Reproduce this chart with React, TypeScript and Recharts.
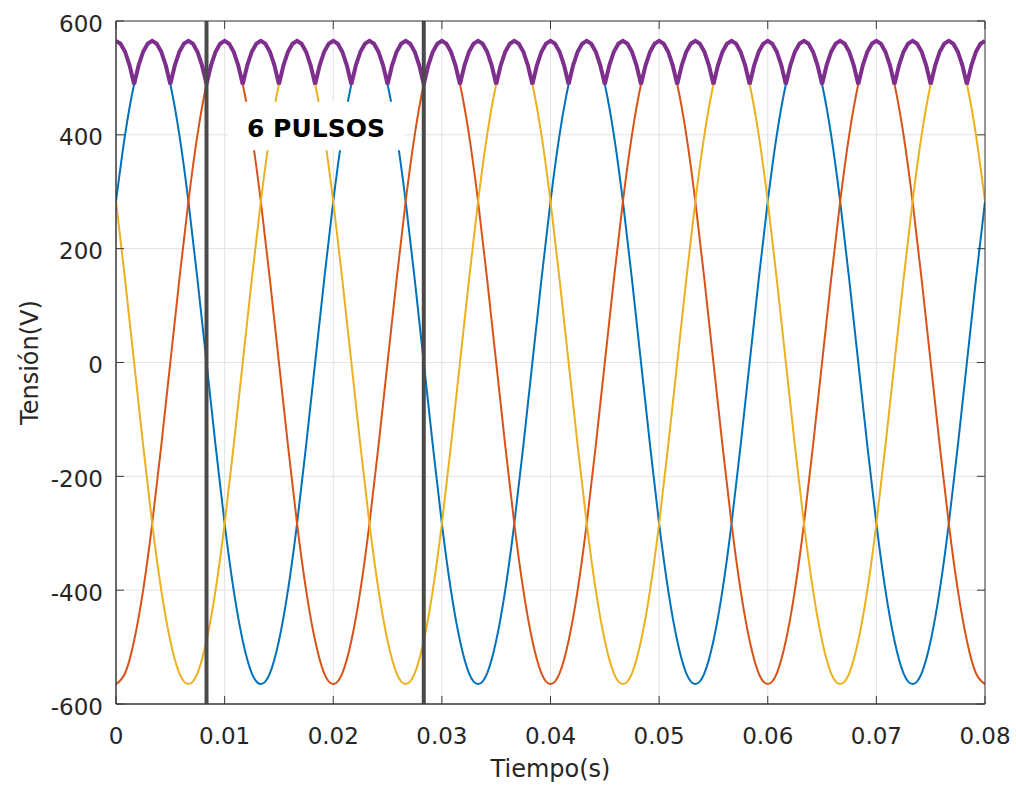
import React from 'react';
import {
  LineChart,
  Line,
  XAxis,
  YAxis,
  CartesianGrid,
  ReferenceLine,
  ReferenceArea,
  Label,
} from 'recharts';

// ---------- data ----------
const xTicks = [0, 0.01, 0.02, 0.03, 0.04, 0.05, 0.06, 0.07, 0.08];
const xTickLabels = ['0', '0.01', '0.02', '0.03', '0.04', '0.05', '0.06', '0.07', '0.08'];
const yTicks = [-600, -400, -200, 0, 200, 400, 600];
const yTickLabels = ['-600', '-400', '-200', '0', '200', '400', '600'];

const phaseTimes = [
  0, 0.000833, 0.001667, 0.0025, 0.003333, 0.004167, 0.005, 0.005833, 0.006667, 0.0075, 0.008333, 0.009167, 0.01, 0.010833, 0.011667, 0.0125, 0.013333, 0.014167, 0.015, 0.015833, 0.016667, 0.0175, 0.018333, 0.019167,
  0.02, 0.020833, 0.021667, 0.0225, 0.023333, 0.024167, 0.025, 0.025833, 0.026667, 0.0275, 0.028333, 0.029167, 0.03, 0.030833, 0.031667, 0.0325, 0.033333, 0.034167, 0.035, 0.035833, 0.036667, 0.0375, 0.038333, 0.039167,
  0.04, 0.040833, 0.041667, 0.0425, 0.043333, 0.044167, 0.045, 0.045833, 0.046667, 0.0475, 0.048333, 0.049167, 0.05, 0.050833, 0.051667, 0.0525, 0.053333, 0.054167, 0.055, 0.055833, 0.056667, 0.0575, 0.058333, 0.059167,
  0.06, 0.060833, 0.061667, 0.0625, 0.063333, 0.064167, 0.065, 0.065833, 0.066667, 0.0675, 0.068333, 0.069167, 0.07, 0.070833, 0.071667, 0.0725, 0.073333, 0.074167, 0.075, 0.075833, 0.076667, 0.0775, 0.078333, 0.079167,
  0.08,
];

const phaseBlue = [
  283, 400, 489, 546, 565, 546, 489, 400, 283, 146, 0, -146, -283, -400, -489, -546, -565, -546, -489, -400, -283, -146, 0, 146,
  283, 400, 489, 546, 565, 546, 489, 400, 283, 146, 0, -146, -283, -400, -489, -546, -565, -546, -489, -400, -283, -146, 0, 146,
  283, 400, 489, 546, 565, 546, 489, 400, 283, 146, 0, -146, -283, -400, -489, -546, -565, -546, -489, -400, -283, -146, 0, 146,
  283, 400, 489, 546, 565, 546, 489, 400, 283, 146, 0, -146, -283, -400, -489, -546, -565, -546, -489, -400, -283, -146, 0, 146,
  283,
];

const phaseOrange = [
  -565, -546, -489, -400, -283, -146, 0, 146, 283, 400, 489, 546, 565, 546, 489, 400, 283, 146, 0, -146, -283, -400, -489, -546,
  -565, -546, -489, -400, -283, -146, 0, 146, 283, 400, 489, 546, 565, 546, 489, 400, 283, 146, 0, -146, -283, -400, -489, -546,
  -565, -546, -489, -400, -283, -146, 0, 146, 283, 400, 489, 546, 565, 546, 489, 400, 283, 146, 0, -146, -283, -400, -489, -546,
  -565, -546, -489, -400, -283, -146, 0, 146, 283, 400, 489, 546, 565, 546, 489, 400, 283, 146, 0, -146, -283, -400, -489, -546,
  -565,
];

const phaseYellow = [
  283, 146, 0, -146, -283, -400, -489, -546, -565, -546, -489, -400, -283, -146, 0, 146, 283, 400, 489, 546, 565, 546, 489, 400,
  283, 146, 0, -146, -283, -400, -489, -546, -565, -546, -489, -400, -283, -146, 0, 146, 283, 400, 489, 546, 565, 546, 489, 400,
  283, 146, 0, -146, -283, -400, -489, -546, -565, -546, -489, -400, -283, -146, 0, 146, 283, 400, 489, 546, 565, 546, 489, 400,
  283, 146, 0, -146, -283, -400, -489, -546, -565, -546, -489, -400, -283, -146, 0, 146, 283, 400, 489, 546, 565, 546, 489, 400,
  283,
];

const envTimes = [
  0, 0.000417, 0.000833, 0.00125, 0.001667, 0.002083, 0.0025, 0.002917, 0.003333, 0.00375, 0.004167, 0.004583, 0.005, 0.005417, 0.005833, 0.00625, 0.006667, 0.007083, 0.0075, 0.007917, 0.008333, 0.00875, 0.009167, 0.009583,
  0.01, 0.010417, 0.010833, 0.01125, 0.011667, 0.012083, 0.0125, 0.012917, 0.013333, 0.01375, 0.014167, 0.014583, 0.015, 0.015417, 0.015833, 0.01625, 0.016667, 0.017083, 0.0175, 0.017917, 0.018333, 0.01875, 0.019167, 0.019583,
  0.02, 0.020417, 0.020833, 0.02125, 0.021667, 0.022083, 0.0225, 0.022917, 0.023333, 0.02375, 0.024167, 0.024583, 0.025, 0.025417, 0.025833, 0.02625, 0.026667, 0.027083, 0.0275, 0.027917, 0.028333, 0.02875, 0.029167, 0.029583,
  0.03, 0.030417, 0.030833, 0.03125, 0.031667, 0.032083, 0.0325, 0.032917, 0.033333, 0.03375, 0.034167, 0.034583, 0.035, 0.035417, 0.035833, 0.03625, 0.036667, 0.037083, 0.0375, 0.037917, 0.038333, 0.03875, 0.039167, 0.039583,
  0.04, 0.040417, 0.040833, 0.04125, 0.041667, 0.042083, 0.0425, 0.042917, 0.043333, 0.04375, 0.044167, 0.044583, 0.045, 0.045417, 0.045833, 0.04625, 0.046667, 0.047083, 0.0475, 0.047917, 0.048333, 0.04875, 0.049167, 0.049583,
  0.05, 0.050417, 0.050833, 0.05125, 0.051667, 0.052083, 0.0525, 0.052917, 0.053333, 0.05375, 0.054167, 0.054583, 0.055, 0.055417, 0.055833, 0.05625, 0.056667, 0.057083, 0.0575, 0.057917, 0.058333, 0.05875, 0.059167, 0.059583,
  0.06, 0.060417, 0.060833, 0.06125, 0.061667, 0.062083, 0.0625, 0.062917, 0.063333, 0.06375, 0.064167, 0.064583, 0.065, 0.065417, 0.065833, 0.06625, 0.066667, 0.067083, 0.0675, 0.067917, 0.068333, 0.06875, 0.069167, 0.069583,
  0.07, 0.070417, 0.070833, 0.07125, 0.071667, 0.072083, 0.0725, 0.072917, 0.073333, 0.07375, 0.074167, 0.074583, 0.075, 0.075417, 0.075833, 0.07625, 0.076667, 0.077083, 0.0775, 0.077917, 0.078333, 0.07875, 0.079167, 0.079583,
  0.08,
];

const envelope = [
  565, 560, 546, 522, 489, 522, 546, 560, 565, 560, 546, 522, 489, 522, 546, 560, 565, 560, 546, 522, 489, 522, 546, 560,
  565, 560, 546, 522, 489, 522, 546, 560, 565, 560, 546, 522, 489, 522, 546, 560, 565, 560, 546, 522, 489, 522, 546, 560,
  565, 560, 546, 522, 489, 522, 546, 560, 565, 560, 546, 522, 489, 522, 546, 560, 565, 560, 546, 522, 489, 522, 546, 560,
  565, 560, 546, 522, 489, 522, 546, 560, 565, 560, 546, 522, 489, 522, 546, 560, 565, 560, 546, 522, 489, 522, 546, 560,
  565, 560, 546, 522, 489, 522, 546, 560, 565, 560, 546, 522, 489, 522, 546, 560, 565, 560, 546, 522, 489, 522, 546, 560,
  565, 560, 546, 522, 489, 522, 546, 560, 565, 560, 546, 522, 489, 522, 546, 560, 565, 560, 546, 522, 489, 522, 546, 560,
  565, 560, 546, 522, 489, 522, 546, 560, 565, 560, 546, 522, 489, 522, 546, 560, 565, 560, 546, 522, 489, 522, 546, 560,
  565, 560, 546, 522, 489, 522, 546, 560, 565, 560, 546, 522, 489, 522, 546, 560, 565, 560, 546, 522, 489, 522, 546, 560,
  565,
];

const pulseMarkers = [0.008333, 0.028333];
const annotationText = '6 PULSOS';
const annotationX = [0.01031, 0.02651];
const annotationY = [373, 458];

// ---------- style ----------
const FONT = '"DejaVu Sans", "Liberation Sans", Arial, sans-serif';
const TEXT = '#262626';
const AXIS = '#3a3a3a';
const PLOT_TOP = 21;
const PLOT_RIGHT = 985;
const TICK_LEN = 8;

const phaseData = phaseTimes.map((t, i) => ({
  t,
  va: phaseBlue[i],
  vb: phaseOrange[i],
  vc: phaseYellow[i],
}));
const envData = envTimes.map((t, i) => ({ t, v: envelope[i] }));

const XTick = (props: any) => {
  const { x, y, payload } = props;
  const idx = xTicks.indexOf(payload.value);
  const label = idx >= 0 ? xTickLabels[idx] : String(payload.value);
  return (
    <g>
      <line x1={x} x2={x} y1={y} y2={y - TICK_LEN} stroke={AXIS} strokeWidth={1} />
      <line x1={x} x2={x} y1={PLOT_TOP} y2={PLOT_TOP + TICK_LEN} stroke={AXIS} strokeWidth={1} />
      <text x={x} y={y + 40} textAnchor="middle" fontSize={23} fill={TEXT} fontFamily={FONT}>
        {label}
      </text>
    </g>
  );
};

const YTick = (props: any) => {
  const { x, y, payload } = props;
  const idx = yTicks.indexOf(payload.value);
  const label = idx >= 0 ? yTickLabels[idx] : String(payload.value);
  return (
    <g>
      <line x1={x} x2={x + TICK_LEN} y1={y} y2={y} stroke={AXIS} strokeWidth={1} />
      <line x1={PLOT_RIGHT} x2={PLOT_RIGHT - TICK_LEN} y1={y} y2={y} stroke={AXIS} strokeWidth={1} />
      <text x={x - 13} y={y + 10.5} textAnchor="end" fontSize={23} fill={TEXT} fontFamily={FONT}>
        {label}
      </text>
    </g>
  );
};

const XTitle = (props: any) => {
  const vb = props.viewBox || { x: 116, y: 704, width: 869, height: 85 };
  return (
    <text x={vb.x + vb.width / 2} y={777} textAnchor="middle" fontSize={24} fill={TEXT} fontFamily={FONT}>
      Tiempo(s)
    </text>
  );
};

const YTitle = (props: any) => {
  const vb = props.viewBox || { x: 0, y: 21, width: 116, height: 683 };
  const cy = vb.y + vb.height / 2;
  return (
    <text
      x={38}
      y={cy}
      transform={`rotate(-90, 38, ${cy})`}
      textAnchor="middle"
      fontSize={24}
      fill={TEXT}
      fontFamily={FONT}
    >
      Tensión(V)
    </text>
  );
};

const BoxLabel = (props: any) => {
  const vb = props.viewBox || { x: 0, y: 0, width: 0, height: 0 };
  return (
    <text
      x={vb.x + vb.width / 2}
      y={vb.y + vb.height / 2 + 11}
      textAnchor="middle"
      fontSize={25}
      fontWeight="bold"
      fill="#000"
      fontFamily={FONT}
    >
      {annotationText}
    </text>
  );
};

export default function App() {
  return (
    <div style={{ position: 'absolute', left: 0, top: 0, width: 1016, height: 789, background: '#fff' }}>
      <LineChart width={1016} height={789} margin={{ top: 21, right: 31, bottom: 0, left: 0 }}>
        <CartesianGrid stroke="#e2e2e2" strokeWidth={1} />
        <XAxis
          dataKey="t"
          type="number"
          domain={[0, 0.08]}
          ticks={xTicks}
          interval={0}
          height={85}
          tickSize={0}
          tickMargin={0}
          tickLine={false}
          axisLine={{ stroke: AXIS }}
          tick={XTick}
          allowDataOverflow
        >
          <Label content={XTitle} />
        </XAxis>
        <YAxis
          type="number"
          domain={[-600, 600]}
          ticks={yTicks}
          interval={0}
          width={116}
          tickSize={0}
          tickMargin={0}
          tickLine={false}
          axisLine={{ stroke: AXIS }}
          tick={YTick}
          allowDataOverflow
        >
          <Label content={YTitle} />
        </YAxis>
        <Line data={phaseData} dataKey="va" type="natural" stroke="#0072BD" strokeWidth={2} dot={false} activeDot={false} isAnimationActive={false} />
        <Line data={phaseData} dataKey="vb" type="natural" stroke="#D95319" strokeWidth={2} dot={false} activeDot={false} isAnimationActive={false} />
        <Line data={phaseData} dataKey="vc" type="natural" stroke="#EDB120" strokeWidth={2} dot={false} activeDot={false} isAnimationActive={false} />
        <Line data={envData} dataKey="v" type="linear" stroke="#7E2F8E" strokeWidth={4} dot={false} activeDot={false} isAnimationActive={false} />
        {pulseMarkers.map((m) => (
          <ReferenceLine key={m} x={m} stroke="#4a4a4a" strokeWidth={4} zIndex={450} />
        ))}
        <ReferenceArea
          x1={annotationX[0]}
          x2={annotationX[1]}
          y1={annotationY[0]}
          y2={annotationY[1]}
          fill="#ffffff"
          fillOpacity={1}
          stroke="none"
          zIndex={460}
          label={<BoxLabel />}
        />
        <ReferenceArea
          x1={0}
          x2={0.08}
          y1={-600}
          y2={600}
          fill="none"
          stroke={AXIS}
          strokeWidth={1}
          zIndex={470}
        />
      </LineChart>
    </div>
  );
}
